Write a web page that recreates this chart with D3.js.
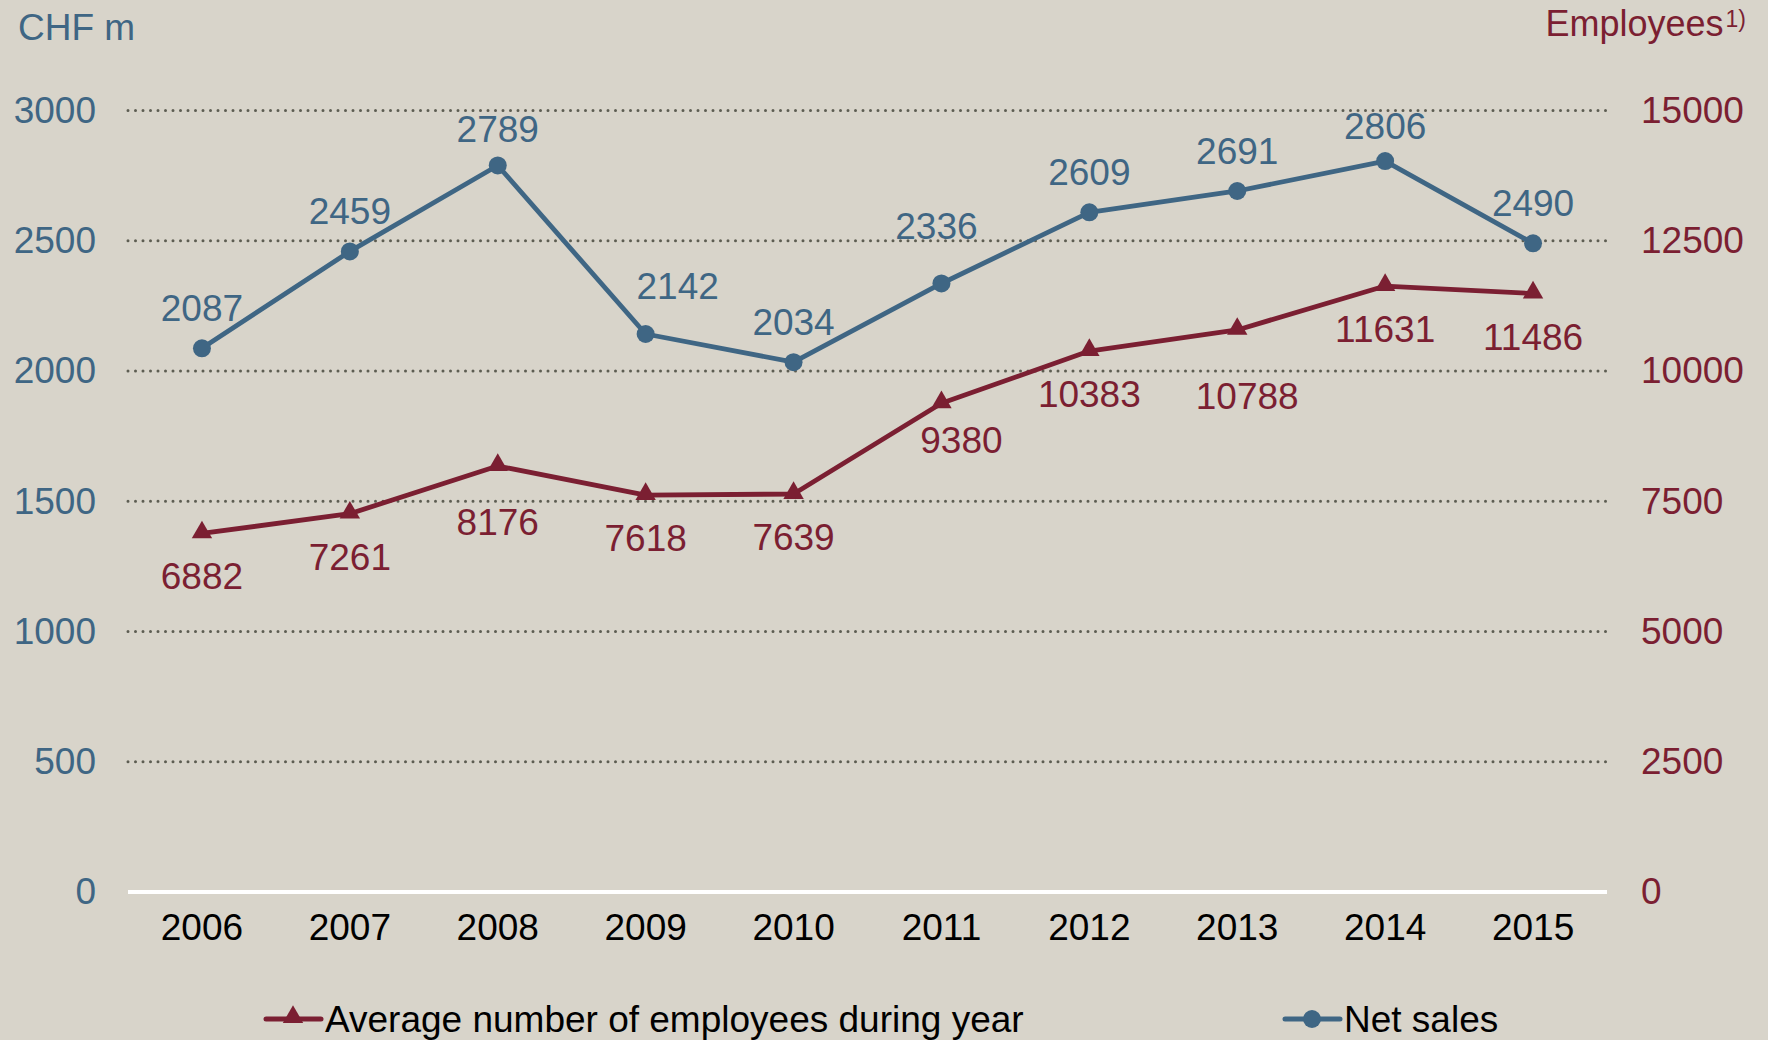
<!DOCTYPE html>
<html>
<head>
<meta charset="utf-8">
<script src="https://cdn.jsdelivr.net/npm/d3@7"></script>
<style>
  body { margin: 0; background: #d8d4ca; }
  svg { display: block; font-family: "Liberation Sans", Arial, sans-serif; }
</style>
</head>
<body>
<div id="chart-area"></div>
<script>
// data
var years = ["2006", "2007", "2008", "2009", "2010", "2011", "2012", "2013", "2014", "2015"];
var netSales = [2087, 2459, 2789, 2142, 2034, 2336, 2609, 2691, 2806, 2490];
var employees = [6882, 7261, 8176, 7618, 7639, 9380, 10383, 10788, 11631, 11486];
var leftTicks = [0, 500, 1000, 1500, 2000, 2500, 3000];
var rightTicks = [0, 2500, 5000, 7500, 10000, 12500, 15000];

var width = 1768;
var height = 1040;
var blue = "#3f6684";
var red = "#7b1f32";
var fontSize = "37px";

// a few labels sit a bit off the default spot
var salesNudge = { "2008": [0, 4], "2009": [32, -8], "2011": [-5, -17], "2014": [0, 5] };
var empNudge = { "2008": [0, 13], "2011": [20, -6], "2013": [10, 23] };

var svg = d3.select("#chart-area").append("svg")
    .attr("width", width)
    .attr("height", height);

svg.append("rect")
    .attr("width", width)
    .attr("height", height)
    .attr("fill", "#d8d4ca");

var x = d3.scaleBand()
    .domain(years)
    .range([128, 1607])
    .padding(0);

var cx = (d) => x(d) + x.bandwidth() / 2;

var yL = d3.scaleLinear()
    .domain([0, 3000])
    .range([892, 110.5]);

var yR = d3.scaleLinear()
    .domain([0, 15000])
    .range([892, 110.5]);

// grid lines
svg.append("g")
    .selectAll("line")
    .data(leftTicks.filter((d) => d > 0))
    .enter()
    .append("line")
        .attr("x1", 128)
        .attr("x2", 1607)
        .attr("y1", (d) => yL(d))
        .attr("y2", (d) => yL(d))
        .attr("stroke", "#5d5d52")
        .attr("stroke-width", 3)
        .attr("stroke-linecap", "round")
        .attr("stroke-dasharray", "0,7.5");

// zero line
svg.append("line")
    .attr("x1", 128)
    .attr("x2", 1607)
    .attr("y1", yL(0))
    .attr("y2", yL(0))
    .attr("stroke", "white")
    .attr("stroke-width", 4);

// left axis
var yAxisLeft = d3.axisLeft(yL)
    .tickValues(leftTicks)
    .tickSize(0)
    .tickPadding(32)
    .tickFormat((d) => d);
var gl = svg.append("g")
    .attr("class", "y axis left")
    .attr("transform", "translate(128, 0)")
    .call(yAxisLeft);
gl.select(".domain").remove();
gl.selectAll(".tick text")
    .attr("fill", blue)
    .style("font-size", fontSize)
    .style("font-family", "Liberation Sans, Arial, sans-serif");

// right axis
var yAxisRight = d3.axisRight(yR)
    .tickValues(rightTicks)
    .tickSize(0)
    .tickPadding(34)
    .tickFormat((d) => d);
var gr = svg.append("g")
    .attr("class", "y axis right")
    .attr("transform", "translate(1607, 0)")
    .call(yAxisRight);
gr.select(".domain").remove();
gr.selectAll(".tick text")
    .attr("fill", red)
    .style("font-size", fontSize)
    .style("font-family", "Liberation Sans, Arial, sans-serif");

// x axis
var xAxis = d3.axisBottom(x).tickSize(0).tickPadding(22);
var gx = svg.append("g")
    .attr("class", "x axis")
    .attr("transform", "translate(0, " + yL(0) + ")")
    .call(xAxis);
gx.select(".domain").remove();
gx.selectAll(".tick text")
    .attr("fill", "black")
    .style("font-size", fontSize)
    .style("font-family", "Liberation Sans, Arial, sans-serif");

// axis titles
svg.append("text")
    .attr("x", 18)
    .attr("y", 40)
    .attr("fill", blue)
    .style("font-size", fontSize)
    .text("CHF m");

var empTitle = svg.append("text")
    .attr("x", 1746)
    .attr("y", 36)
    .attr("text-anchor", "end")
    .attr("fill", red)
    .style("font-size", "36px");
empTitle.append("tspan").text("Employees");
empTitle.append("tspan")
    .attr("dx", 2)
    .attr("dy", -9)
    .style("font-size", "23px")
    .text("1)");

// employees line
var empLine = d3.line()
    .x((d, i) => cx(years[i]))
    .y((d) => yR(d));

svg.append("path")
    .datum(employees)
    .attr("fill", "none")
    .attr("stroke", red)
    .attr("stroke-width", 4.8)
    .attr("stroke-linejoin", "round")
    .attr("d", empLine);

var tri = d3.symbol().type(d3.symbolTriangle).size(180);
svg.append("g")
    .selectAll("path")
    .data(employees)
    .enter()
    .append("path")
        .attr("d", tri)
        .attr("fill", red)
        .attr("transform", (d, i) => "translate(" + cx(years[i]) + ", " + (yR(d) - 1) + ")");

svg.append("g")
    .selectAll("text")
    .data(employees)
    .enter()
    .append("text")
        .attr("x", (d, i) => cx(years[i]) + (empNudge[years[i]] ? empNudge[years[i]][0] : 0))
        .attr("y", (d, i) => yR(d) + 43 + (empNudge[years[i]] ? empNudge[years[i]][1] : 0))
        .attr("dy", "0.35em")
        .attr("text-anchor", "middle")
        .attr("fill", red)
        .style("font-size", fontSize)
        .text((d) => d);

// net sales line
var salesLine = d3.line()
    .x((d, i) => cx(years[i]))
    .y((d) => yL(d));

svg.append("path")
    .datum(netSales)
    .attr("fill", "none")
    .attr("stroke", blue)
    .attr("stroke-width", 4.8)
    .attr("stroke-linejoin", "round")
    .attr("d", salesLine);

svg.append("g")
    .selectAll("circle")
    .data(netSales)
    .enter()
    .append("circle")
        .attr("cx", (d, i) => cx(years[i]))
        .attr("cy", (d) => yL(d))
        .attr("r", 9)
        .attr("fill", blue);

svg.append("g")
    .selectAll("text")
    .data(netSales)
    .enter()
    .append("text")
        .attr("x", (d, i) => cx(years[i]) + (salesNudge[years[i]] ? salesNudge[years[i]][0] : 0))
        .attr("y", (d, i) => yL(d) - 40 + (salesNudge[years[i]] ? salesNudge[years[i]][1] : 0))
        .attr("dy", "0.35em")
        .attr("text-anchor", "middle")
        .attr("fill", blue)
        .style("font-size", fontSize)
        .text((d) => d);

// legend
var legY = 1019;
var leg1 = svg.append("g");
leg1.append("line")
    .attr("x1", 266).attr("x2", 321)
    .attr("y1", legY).attr("y2", legY)
    .attr("stroke", red).attr("stroke-width", 5)
    .attr("stroke-linecap", "round");
leg1.append("path")
    .attr("d", tri)
    .attr("fill", red)
    .attr("transform", "translate(293, " + (legY - 2) + ")");
leg1.append("text")
    .attr("x", 325)
    .attr("y", legY)
    .attr("dy", "0.36em")
    .attr("fill", "black")
    .style("font-size", fontSize)
    .text("Average number of employees during year");

var leg2 = svg.append("g");
leg2.append("line")
    .attr("x1", 1285).attr("x2", 1340)
    .attr("y1", legY).attr("y2", legY)
    .attr("stroke", blue).attr("stroke-width", 5)
    .attr("stroke-linecap", "round");
leg2.append("circle")
    .attr("cx", 1312).attr("cy", legY)
    .attr("r", 9)
    .attr("fill", blue);
leg2.append("text")
    .attr("x", 1344)
    .attr("y", legY)
    .attr("dy", "0.36em")
    .attr("fill", "black")
    .style("font-size", fontSize)
    .text("Net sales");
</script>
</body>
</html>
